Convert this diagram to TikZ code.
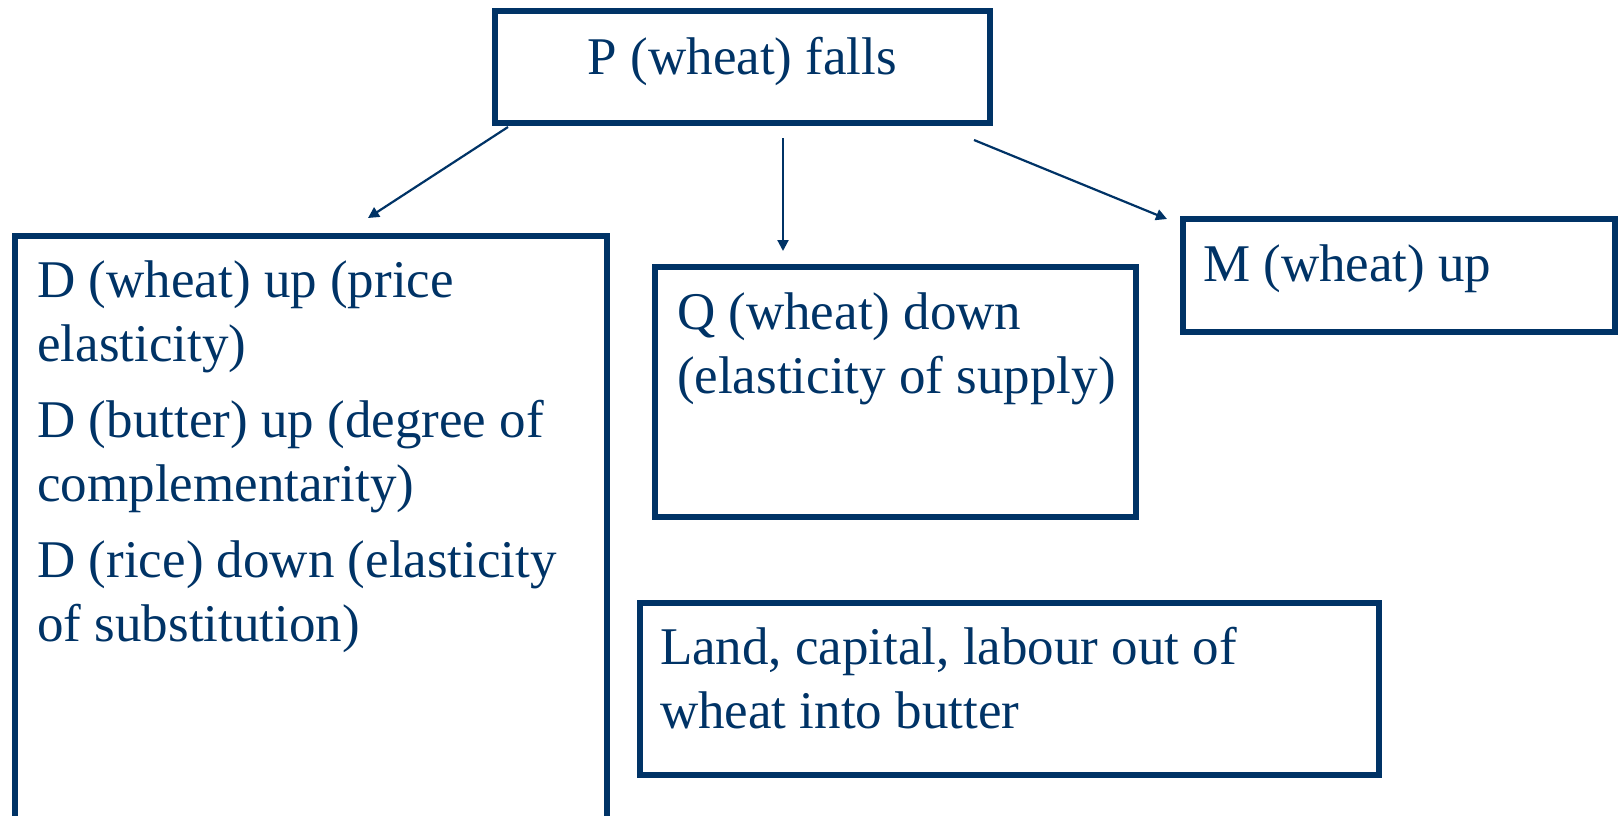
\documentclass[tikz,border=0pt]{standalone}
\usepackage{fontspec}
\setmainfont{Liberation Serif}
\usetikzlibrary{arrows.meta,calc}
\definecolor{navy}{RGB}{0,51,102}
\begin{document}
\begin{tikzpicture}[x=0.5pt,y=-0.5pt,
  box/.style={draw=navy,line width=2.6pt,rectangle,inner sep=0pt,outer sep=0pt},
  label/.style={text=navy,inner sep=0pt,outer sep=0pt,anchor=north west,align=left,
    font=\fontsize{26.5}{32}\selectfont},
  link/.style={draw=navy,line width=1.1pt,-{Triangle[length=5.5pt,width=5.5pt]}}]
\useasboundingbox (0,0) rectangle (1618,815);
\clip (0,0) rectangle (1618,815);

% boxes
\node[box,minimum width=247.5pt,minimum height=56pt] (P) at (742.5,67) {};
\node[box,minimum width=296pt,minimum height=332pt] (L) at (311,568) {};
\node[box,minimum width=240.5pt,minimum height=125pt] (Q) at (895.5,392) {};
\node[box,minimum width=216pt,minimum height=56.5pt] (M) at (1399,275.5) {};
\node[box,minimum width=369.5pt,minimum height=86pt] (F) at (1009.5,689) {};

% texts
\node[label,anchor=north] (Ptext) at ($(P.north)+(0,26.5)$) {P (wheat) falls};
\node[label] (Ltext) at ($(L.north west)+(22.4,24.5)$)
  {D (wheat) up (price\\elasticity)\\[6pt]D (butter) up (degree of\\complementarity)\\[6pt]D (rice) down (elasticity\\of substitution)};
\node[label] (Qtext) at ($(Q.north west)+(22,25.5)$) {Q (wheat) down\\(elasticity of supply)};
\node[label] (Mtext) at ($(M.north west)+(20,25.5)$) {M (wheat) up};
\node[label] (Ftext) at ($(F.north west)+(20,24.5)$) {Land, capital, labour out of\\wheat into butter};

% arrow ends
\coordinate (s1) at ($(P.south west)+(13,4)$);
\coordinate (t1) at ($(L.north west)+(353,-18)$);
\coordinate (s2) at ($(P.south west)+(288,15)$);
\coordinate (t2) at ($(Q.north west)+(128,-16)$);
\coordinate (s3) at ($(P.south east)+(-16,17)$);
\coordinate (t3) at ($(M.north west)+(-16,0)$);

\draw[link] (s1) -- (t1);
\draw[link] (s2) -- (t2);
\draw[link] (s3) -- (t3);
\end{tikzpicture}
\end{document}
